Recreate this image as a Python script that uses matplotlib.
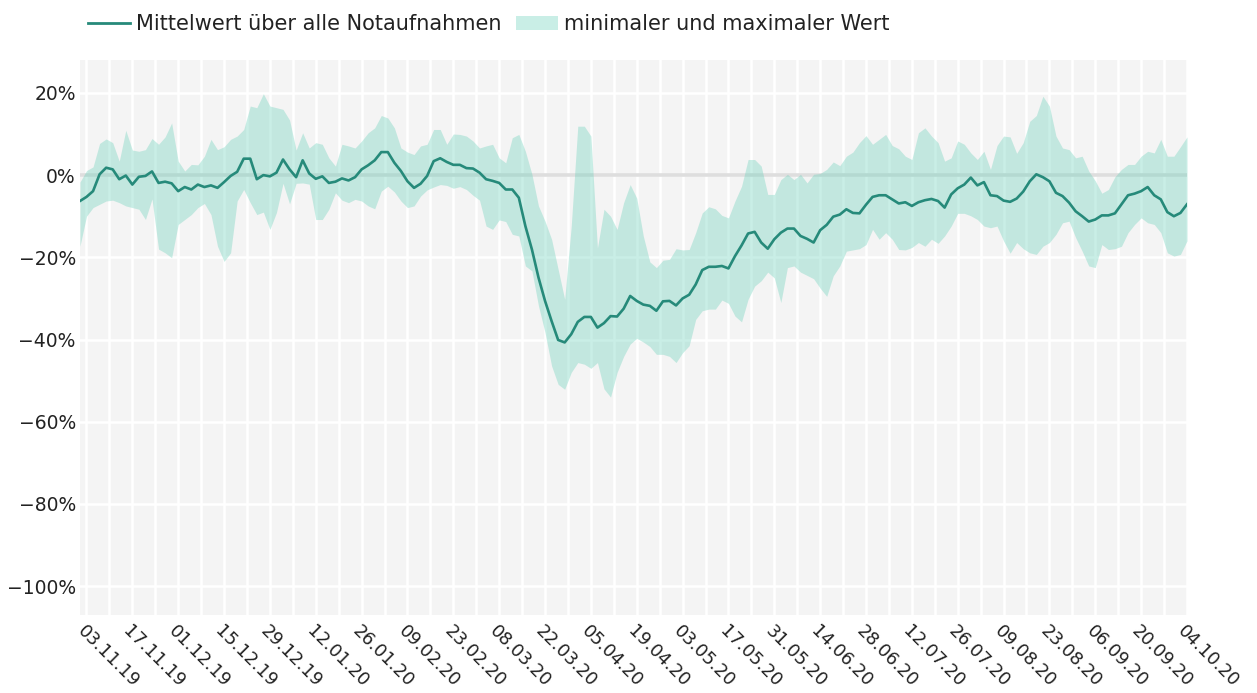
import matplotlib
matplotlib.use("Agg")
import matplotlib.pyplot as plt
import matplotlib.dates as mdates
from matplotlib.patches import Patch
from matplotlib.lines import Line2D
from matplotlib.ticker import FuncFormatter, FixedLocator
import pandas as pd

start_date = "2019-11-01"
step = "2D"

mean_vals = [
    -6.3, -5.3, -3.9, 0.2, 1.8, 1.4, -1.0, -0.1, -2.3, -0.4,
    -0.2, 0.9, -1.9, -1.6, -2.0, -3.9, -2.9, -3.5, -2.3, -2.9,
    -2.5, -3.1, -1.7, -0.2, 0.8, 4.0, 4.0, -1.0, 0.0, -0.3,
    0.6, 3.8, 1.4, -0.5, 3.6, 0.4, -0.9, -0.3, -1.9, -1.6,
    -0.8, -1.3, -0.5, 1.4, 2.4, 3.6, 5.6, 5.6, 3.0, 1.0,
    -1.5, -3.1, -2.1, -0.2, 3.4, 4.1, 3.2, 2.5, 2.5, 1.7,
    1.6, 0.6, -1.0, -1.4, -1.9, -3.5, -3.5, -5.5, -12.4, -18.1,
    -24.9, -30.6, -35.5, -40.1, -40.7, -38.7, -35.7, -34.5, -34.5, -37.1,
    -36.0, -34.3, -34.4, -32.5, -29.4, -30.6, -31.5, -31.8, -33.0, -30.7,
    -30.6, -31.7, -30.0, -29.1, -26.6, -23.1, -22.3, -22.3, -22.1, -22.7,
    -19.7, -17.1, -14.2, -13.8, -16.4, -17.9, -15.6, -14.0, -13.0, -13.0,
    -14.8, -15.5, -16.4, -13.4, -12.1, -10.1, -9.6, -8.3, -9.2, -9.3,
    -7.2, -5.3, -4.9, -4.9, -5.9, -6.9, -6.6, -7.5, -6.6, -6.1,
    -5.8, -6.3, -7.9, -4.7, -3.2, -2.3, -0.6, -2.5, -1.7, -4.9,
    -5.1, -6.2, -6.5, -5.7, -4.0, -1.5, 0.2, -0.5, -1.5, -4.3,
    -5.1, -6.7, -8.8, -10.0, -11.3, -10.8, -9.8, -9.8, -9.3, -7.1,
    -4.9, -4.5, -3.9, -2.9, -4.9, -5.9, -9.0, -10.0, -9.2, -7.1,
]

max_vals = [
    -1.7, 1.1, 2.0, 7.7, 8.8, 7.9, 3.4, 10.9, 6.1, 5.8,
    6.2, 8.9, 7.5, 9.3, 12.7, 3.4, 1.0, 2.6, 2.5, 4.6,
    8.7, 6.2, 6.9, 8.7, 9.5, 11.1, 16.8, 16.4, 19.8, 16.8,
    16.4, 16.0, 13.4, 6.1, 10.3, 6.6, 7.9, 7.5, 4.2, 2.2,
    7.5, 7.1, 6.6, 8.3, 10.3, 11.5, 14.5, 13.9, 11.5, 6.6,
    5.6, 5.0, 7.1, 7.5, 11.1, 11.1, 7.5, 10.0, 9.9, 9.5,
    8.3, 6.6, 7.1, 7.5, 4.2, 3.0, 9.1, 9.9, 5.8, 0.2,
    -7.5, -11.2, -15.6, -22.9, -30.2, -12.4, 11.9, 11.9, 9.5, -17.7,
    -8.3, -10.0, -13.2, -6.7, -2.3, -5.6, -14.8, -21.1, -22.5, -20.7,
    -20.5, -17.9, -18.2, -18.1, -14.0, -9.2, -7.7, -8.2, -9.8, -10.4,
    -6.3, -2.7, 3.8, 3.8, 2.2, -4.7, -4.7, -1.1, 0.2, -1.1,
    0.2, -1.9, 0.2, 0.4, 1.4, 3.2, 2.3, 4.6, 5.6, 7.9,
    9.6, 7.5, 8.7, 9.9, 7.2, 6.4, 4.6, 3.8, 10.3, 11.5,
    9.5, 7.9, 3.4, 4.2, 8.3, 7.5, 5.4, 3.8, 5.8, 1.4,
    7.2, 9.5, 9.3, 5.3, 7.9, 13.1, 14.5, 19.2, 16.8, 9.5,
    6.6, 6.2, 4.2, 4.6, 1.0, -1.4, -4.4, -3.5, -0.4, 1.4,
    2.6, 2.6, 4.6, 5.8, 5.4, 8.7, 4.6, 4.6, 6.9, 9.3,
]

min_vals = [
    -17.3, -10.0, -7.9, -7.1, -6.3, -6.1, -6.7, -7.5, -7.9, -8.3,
    -10.8, -5.8, -18.0, -18.9, -20.1, -12.0, -10.8, -9.6, -7.9, -6.9,
    -9.6, -17.3, -21.0, -18.9, -6.3, -3.5, -6.7, -9.6, -9.0, -13.2,
    -9.1, -2.0, -7.0, -2.0, -1.9, -2.2, -10.8, -10.8, -8.3, -4.3,
    -6.1, -6.7, -5.9, -6.3, -7.5, -8.2, -3.9, -2.7, -4.1, -6.3,
    -7.9, -7.5, -5.1, -3.6, -2.9, -2.3, -2.5, -3.2, -2.8, -3.5,
    -4.9, -6.1, -12.4, -13.2, -10.9, -11.3, -14.4, -14.8, -22.1, -23.3,
    -31.8, -38.3, -46.4, -50.9, -52.1, -48.0, -45.6, -46.0, -47.0, -45.6,
    -52.0, -54.0, -48.0, -44.1, -41.1, -39.7, -40.6, -41.7, -43.6, -43.6,
    -44.1, -45.6, -43.2, -41.5, -35.1, -33.0, -32.6, -32.6, -30.4, -31.2,
    -34.3, -35.7, -30.2, -27.0, -25.7, -23.6, -25.0, -31.0, -22.5, -22.1,
    -23.6, -24.4, -25.2, -27.5, -29.5, -24.5, -22.1, -18.5, -18.2, -17.9,
    -16.9, -13.2, -15.6, -14.0, -15.6, -18.1, -18.2, -17.6, -16.4, -17.3,
    -15.6, -16.6, -14.8, -12.4, -9.3, -9.3, -9.9, -10.8, -12.4, -12.8,
    -12.4, -16.0, -19.0, -16.4, -17.9, -18.9, -19.3, -17.3, -16.4, -14.4,
    -11.6, -11.2, -15.2, -18.5, -22.1, -22.5, -16.9, -18.1, -17.9, -17.3,
    -14.0, -12.0, -10.4, -11.6, -12.0, -14.0, -18.9, -19.7, -19.3, -16.0,
]

y_ticks = [-100, -80, -60, -40, -20, 0, 20]
first_tick = "2019-11-03"
last_tick = "2020-10-04"
legend_labels = ["Mittelwert über alle Notaufnahmen", "minimaler und maximaler Wert"]

dates = pd.date_range(start_date, periods=len(mean_vals), freq=step)
major_ticks = pd.date_range(first_tick, last_tick, freq="14D")
minor_ticks = pd.date_range(first_tick, last_tick, freq="7D")

plt.rcParams["font.family"] = ["DejaVu Sans"]
line_color = "#268a7a"
fill_rgba = (110 / 255, 210 / 255, 188 / 255, 0.37)
text_color = "#222222"

fig = plt.figure(figsize=(12.57, 6.93), dpi=100)
ax = fig.add_axes([0.0636, 0.1126, 0.8807, 0.8008])
ax.set_facecolor("#f4f4f4")
for s in ax.spines.values():
    s.set_visible(False)

ax.axhline(0, color="#dedede", lw=2.6, zorder=1)
ax.fill_between(dates, min_vals, max_vals, color=fill_rgba, lw=0, zorder=2)
ax.plot(dates, mean_vals, color=line_color, lw=1.9, zorder=3)

ax.set_xlim(pd.Timestamp("2019-11-01"), pd.Timestamp("2020-10-04"))
ax.set_ylim(-107, 28)

ax.xaxis.set_major_locator(FixedLocator(mdates.date2num(major_ticks.to_pydatetime())))
ax.xaxis.set_minor_locator(FixedLocator(mdates.date2num(minor_ticks.to_pydatetime())))
ax.xaxis.set_major_formatter(mdates.DateFormatter("%d.%m.%y"))
ax.set_yticks(y_ticks)
ax.yaxis.set_major_formatter(FuncFormatter(lambda v, p: f"{int(v)}%".replace("-", "\u2212")))

ax.grid(which="major", axis="y", color="white", lw=1.8, zorder=0)
ax.grid(which="both", axis="x", color="white", lw=1.8, zorder=0)
ax.set_axisbelow(True)

ax.tick_params(axis="y", which="both", length=0, labelsize=13.5, colors=text_color, pad=3)
ax.tick_params(axis="x", which="both", length=0, labelsize=12.8, colors=text_color, pad=5)
for lab in ax.get_xticklabels():
    lab.set_rotation(-45)
    lab.set_ha("left")
    lab.set_va("top")
    lab.set_rotation_mode("anchor")

handles = [
    Line2D([0], [0], color=line_color, lw=2),
    Patch(facecolor=fill_rgba, edgecolor="none"),
]
fig.legend(handles, legend_labels, loc="center left", bbox_to_anchor=(0.07, 0.965),
           ncol=2, frameon=False, fontsize=15, handlelength=2.0, handletextpad=0.3,
           columnspacing=0.7, labelcolor=text_color, borderaxespad=0, borderpad=0)

fig.savefig("out.png", dpi=100)
